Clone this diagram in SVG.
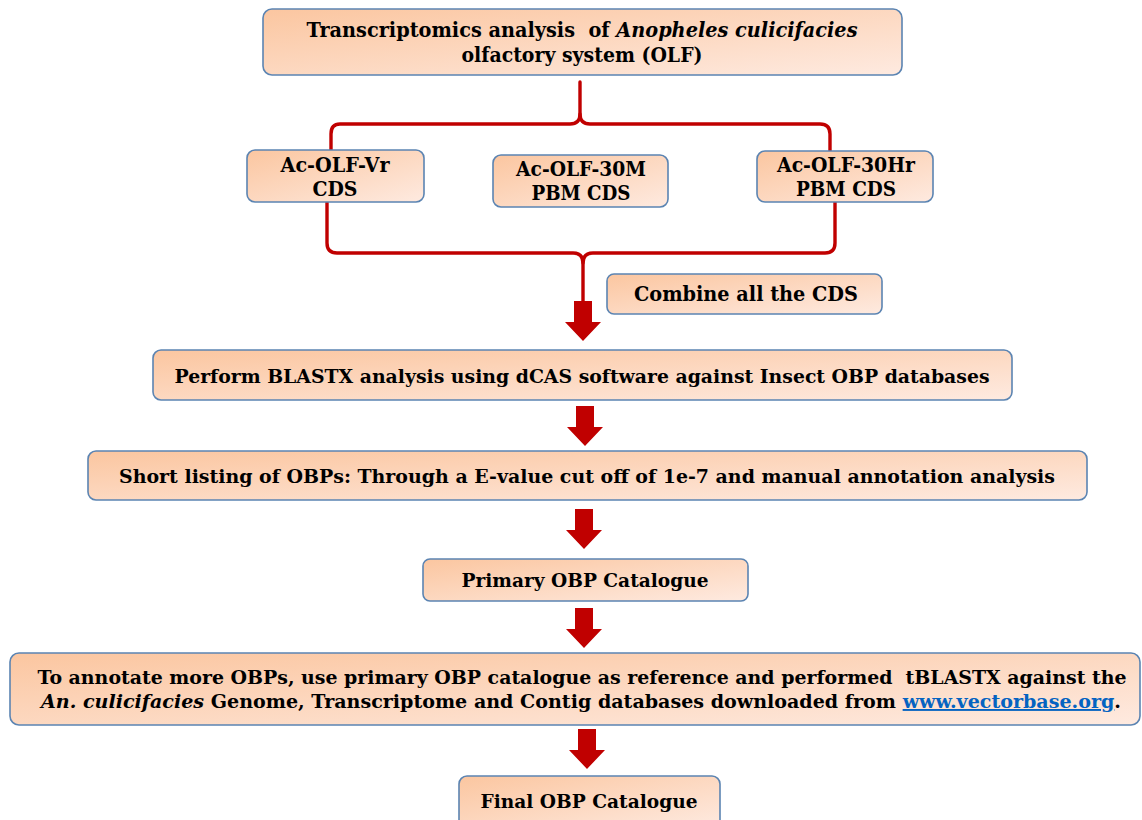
<svg xmlns="http://www.w3.org/2000/svg" width="1142" height="820" viewBox="0 0 1142 820">
<defs>
<linearGradient id="g" x1="0" y1="0" x2="1" y2="1">
<stop offset="0" stop-color="#fbc6a0"/>
<stop offset="1" stop-color="#feeae0"/>
</linearGradient>
<path id="arr" d="M-9,0 H9 V21 H18 L0,40 L-18,21 H-9 Z"/>
</defs>
<style>
.box{fill:url(#g);stroke:#5b84b2;stroke-width:1.6}
.t{font-family:"DejaVu Serif","Liberation Serif",serif;font-weight:bold;fill:#000;text-anchor:middle}
.i{font-style:italic}
.brace{fill:none;stroke:#c00000;stroke-width:3.4;stroke-linecap:round;stroke-linejoin:round}
.ar{fill:#c00000}
.lk{fill:#0563c1;text-decoration:underline}
</style>
<rect width="1142" height="820" fill="#fff"/>
<g id="connectors">
<path class="brace" d="M580,82 V114 Q580,124 570,124 H340 Q331,124 331,134 V150"/>
<path class="brace" d="M580,114 Q580,124 590,124 H820 Q830,124 830,134 V151"/>
<path class="brace" d="M327,202 V243 Q327,253 337,253 H573 Q583,253 583,263 V303"/>
<path class="brace" d="M583,263 Q583,253 593,253 H825 Q835,253 835,243 V202"/>
<use href="#arr" class="ar" x="583" y="301"/>
<use href="#arr" class="ar" x="585" y="406"/>
<use href="#arr" class="ar" x="584" y="509"/>
<use href="#arr" class="ar" x="584" y="608"/>
<use href="#arr" class="ar" x="587" y="729"/>
</g>
<g id="n_top">
<rect class="box" x="263" y="9" width="639" height="66" rx="9"/>
<text class="t" font-size="20" x="582" y="37" textLength="551" lengthAdjust="spacingAndGlyphs" xml:space="preserve">Transcriptomics analysis  of <tspan class="i">Anopheles culicifacies</tspan></text>
<text class="t" font-size="20" x="582" y="62" textLength="241" lengthAdjust="spacingAndGlyphs">olfactory system (OLF)</text>
</g>
<g id="n_vr">
<rect class="box" x="247" y="150" width="177" height="52" rx="8"/>
<text class="t" font-size="20" x="335" y="172" textLength="109" lengthAdjust="spacingAndGlyphs">Ac-OLF-Vr</text>
<text class="t" font-size="20" x="335" y="196" textLength="45" lengthAdjust="spacingAndGlyphs">CDS</text>
</g>
<g id="n_30m">
<rect class="box" x="493" y="155" width="175" height="52" rx="8"/>
<text class="t" font-size="20" x="581" y="176" textLength="130" lengthAdjust="spacingAndGlyphs">Ac-OLF-30M</text>
<text class="t" font-size="20" x="581" y="200" textLength="99" lengthAdjust="spacingAndGlyphs">PBM CDS</text>
</g>
<g id="n_30hr">
<rect class="box" x="757" y="151" width="176" height="51" rx="8"/>
<text class="t" font-size="20" x="846" y="172" textLength="138" lengthAdjust="spacingAndGlyphs">Ac-OLF-30Hr</text>
<text class="t" font-size="20" x="846" y="196" textLength="100" lengthAdjust="spacingAndGlyphs">PBM CDS</text>
</g>
<g id="n_combine">
<rect class="box" x="607" y="274" width="275" height="40" rx="7"/>
<text class="t" font-size="20" x="746" y="301" textLength="224" lengthAdjust="spacingAndGlyphs">Combine all the CDS</text>
</g>
<g id="n_blastx">
<rect class="box" x="153" y="350" width="859" height="50" rx="8"/>
<text class="t" font-size="19" x="582" y="383" textLength="815" lengthAdjust="spacingAndGlyphs">Perform BLASTX analysis using dCAS software against Insect OBP databases</text>
</g>
<g id="n_short">
<rect class="box" x="88" y="451" width="999" height="49" rx="8"/>
<text class="t" font-size="19" x="587" y="483" textLength="936" lengthAdjust="spacingAndGlyphs">Short listing of OBPs: Through a E-value cut off of 1e-7 and manual annotation analysis</text>
</g>
<g id="n_primary">
<rect class="box" x="423" y="559" width="325" height="42" rx="7"/>
<text class="t" font-size="19" x="585" y="587" textLength="247" lengthAdjust="spacingAndGlyphs">Primary OBP Catalogue</text>
</g>
<g id="n_annot">
<rect class="box" x="10" y="653" width="1130" height="72" rx="9"/>
<text class="t" font-size="19" x="582" y="684" textLength="1089" lengthAdjust="spacingAndGlyphs" xml:space="preserve">To annotate more OBPs, use primary OBP catalogue as reference and performed  tBLASTX against the</text>
<text class="t" font-size="19" x="581" y="708" textLength="1080" lengthAdjust="spacingAndGlyphs"><tspan class="i">An. culicifacies</tspan> Genome, Transcriptome and Contig databases downloaded from <tspan class="lk">www.vectorbase.org</tspan>.</text>
</g>
<g id="n_final">
<rect class="box" x="459" y="776" width="261" height="52" rx="8"/>
<text class="t" font-size="19" x="589" y="808" textLength="217" lengthAdjust="spacingAndGlyphs">Final OBP Catalogue</text>
</g>
</svg>
